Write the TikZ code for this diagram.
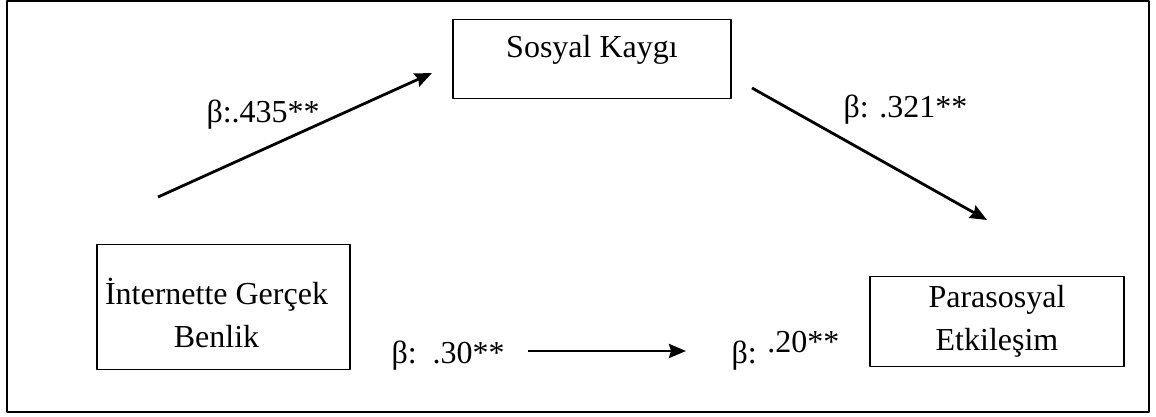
\documentclass[tikz,border=0pt]{standalone}
\usepackage{fontspec}
\setmainfont{Liberation Serif}
\usetikzlibrary{arrows.meta}
\begin{document}
\begin{tikzpicture}[x=1pt, y=-1pt, font=\fontsize{32}{43}\selectfont, line join=round, >={Stealth[length=17pt,width=14pt,inset=2pt]},
	kutu/.style={draw, line width=1.4pt, inner xsep=0pt, inner ysep=8pt, align=center},
	ok/.style={->, line width=2.8pt}]
			\useasboundingbox (0,0) rectangle (1156,416);
			\draw[line width=2pt] (7,1) rectangle (1149,412);
			% kutular
			\node[kutu, minimum width=278pt, text height=30pt, text depth=33pt, anchor=north] (sk) at (592,19) {Sosyal Kaygı};
			\node[kutu, minimum width=253pt, text height=95pt, text depth=14pt, anchor=north] (igb) at (223.5,244) {İnternette Gerçek\hspace*{14pt}\\Benlik\hspace*{14pt}};
			\node[kutu, minimum width=254pt, text height=66pt, text depth=8pt, anchor=north] (pe) at (997,276) {Parasosyal\\Etkileşim};
			% oklar
			\coordinate (a1) at (158,197); \coordinate (b1) at (432,73);
			\coordinate (a2) at (752,88); \coordinate (b2) at (987,220);
			\coordinate (a3) at (528,351); \coordinate (b3) at (686,351);
			\draw[ok] (a1)--(b1);
			\draw[ok] (a2)--(b2);
			\draw[ok] (a3)--(b3);
			% katsayilar
			\node[anchor=base west] (l1) at (203,122) {β:.435**};
			\node[anchor=base west] (l2) at (840,117) {β: .321**};
			\node[anchor=base west] (l3) at (388,363) {β:~~.30**};
			\node[anchor=base west] (l4) at (728,363) {β: \raisebox{11pt}{.20**}};
\end{tikzpicture}
\end{document}
